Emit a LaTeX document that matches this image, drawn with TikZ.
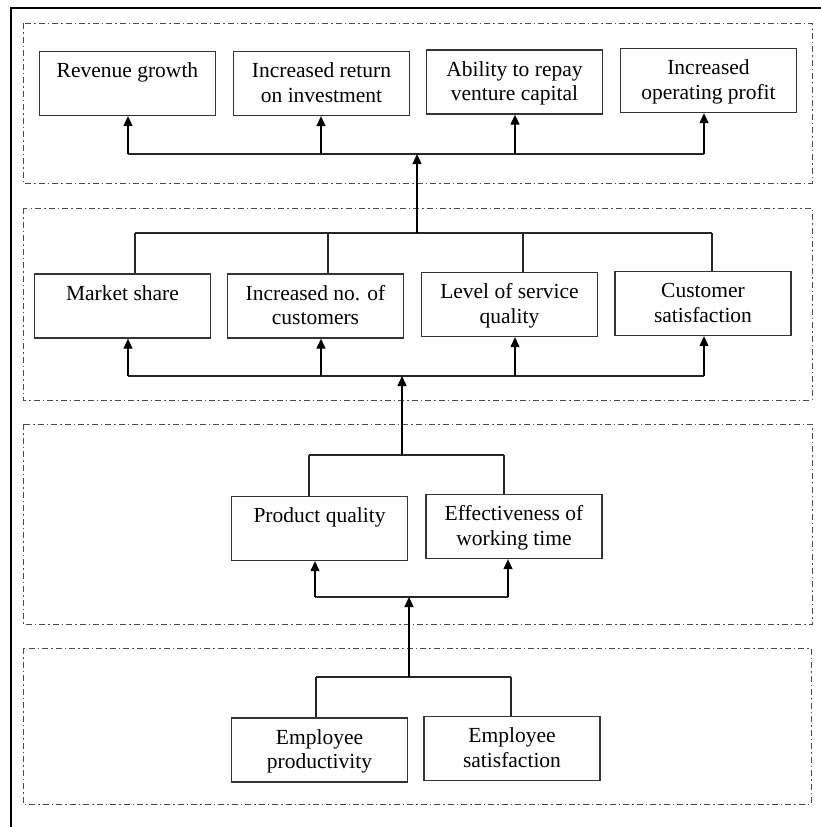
\documentclass[tikz,border=0pt]{standalone}
\usepackage{fontspec}
\setmainfont{Liberation Serif}
\usetikzlibrary{arrows.meta}
\newcommand{\bt}[1]{\parbox[c][56pt][t]{168pt}{\centering\fontsize{21.5}{24.5}\selectfont\rule{0pt}{22pt}#1}}
\tikzset{
  box/.style={draw=black!80, line width=1.3pt, rectangle, inner sep=4pt, minimum width=175pt, minimum height=64pt},
  grp/.style={draw=black!70, line width=1pt, dash pattern=on 6pt off 3pt on 1.5pt off 3pt},
  ln/.style={draw=black!85, line width=1.3pt},
  arr/.style={draw=black, line width=1.3pt, -{Triangle[width=9pt,length=10pt]}},
}
\begin{document}
\begin{tikzpicture}[x=1pt,y=-1pt]
\useasboundingbox (0,0) rectangle (821,827);
% outer frame (left and top only)
\draw[line width=2.6pt] (11,827) -- (11,8) -- (821,8);
% dashed groups
\draw[grp] (23,23) rectangle (812,183);
\draw[grp] (23,208) rectangle (812,400);
\draw[grp] (23,424) rectangle (812,624);
\draw[grp] (23,648) rectangle (811,804);
% row 1
\node[box] (r1a) at (127.5,83.5) {\bt{Revenue growth}};
\node[box] (r1b) at (321.5,83.5) {\bt{Increased return\\on investment}};
\node[box] (r1c) at (514.5,82) {\bt{Ability to repay\\venture capital}};
\node[box] (r1d) at (708.5,80.5) {\bt{Increased\\operating profit}};
% row 2
\node[box] (r2a) at (122.5,306) {\bt{Market share}};
\node[box] (r2b) at (315.5,306) {\bt{Increased no. of\\customers}};
\node[box] (r2c) at (509.5,304.5) {\bt{Level of service\\quality}};
\node[box] (r2d) at (703,303.5) {\bt{Customer\\satisfaction}};
% row 3
\node[box] (r3a) at (319.5,528.5) {\bt{Product quality}};
\node[box] (r3b) at (514,526.5) {\bt{Effectiveness of\\working time}};
% row 4
\node[box] (r4a) at (319.5,750) {\bt{Employee\\productivity}};
\node[box] (r4b) at (512,748.5) {\bt{Employee\\satisfaction}};
% connectors row 1 (bar under top boxes)
\coordinate (a1) at (128,154);
\coordinate (a2) at (321,154);
\coordinate (a3) at (515,154);
\coordinate (a4) at (704,154);
\coordinate (t1) at (417,154);
\draw[ln] (a1) -- (a4);
\draw[arr] (a1) -- (a1 |- r1a.south);
\draw[arr] (a2) -- (a2 |- r1b.south);
\draw[arr] (a3) -- (a3 |- r1c.south);
\draw[arr] (a4) -- (a4 |- r1d.south);
% row 2 top bar
\coordinate (c1) at (135,233);
\coordinate (c2) at (328,233);
\coordinate (c3) at (523,233);
\coordinate (c4) at (712,233);
\coordinate (j2) at (417,233);
\draw[ln] (c1) -- (c4);
\draw[ln] (c1) -- (c1 |- r2a.north);
\draw[ln] (c2) -- (c2 |- r2b.north);
\draw[ln] (c3) -- (c3 |- r2c.north);
\draw[ln] (c4) -- (c4 |- r2d.north);
\draw[arr] (j2) -- (t1);
% row 2 bottom bar
\coordinate (b1) at (128,376);
\coordinate (b2) at (321,376);
\coordinate (b3) at (515,376);
\coordinate (b4) at (704,376);
\coordinate (t2) at (402,376);
\draw[ln] (b1) -- (b4);
\draw[arr] (b1) -- (b1 |- r2a.south);
\draw[arr] (b2) -- (b2 |- r2b.south);
\draw[arr] (b3) -- (b3 |- r2c.south);
\draw[arr] (b4) -- (b4 |- r2d.south);
% row 3 top bar
\coordinate (d1) at (309,455);
\coordinate (d2) at (504,455);
\coordinate (j3) at (402,455);
\draw[ln] (d1) -- (d2);
\draw[ln] (d1) -- (d1 |- r3a.north);
\draw[ln] (d2) -- (d2 |- r3b.north);
\draw[arr] (j3) -- (t2);
% row 3 bottom bar
\coordinate (e1) at (315,597);
\coordinate (e2) at (508,597);
\coordinate (t3) at (409,597);
\draw[ln] (e1) -- (e2);
\draw[arr] (e1) -- (e1 |- r3a.south);
\draw[arr] (e2) -- (e2 |- r3b.south);
% row 4 top bar
\coordinate (f1) at (316,677);
\coordinate (f2) at (511,677);
\coordinate (j4) at (409,677);
\draw[ln] (f1) -- (f2);
\draw[ln] (f1) -- (f1 |- r4a.north);
\draw[ln] (f2) -- (f2 |- r4b.north);
\draw[arr] (j4) -- (t3);
\end{tikzpicture}
\end{document}
